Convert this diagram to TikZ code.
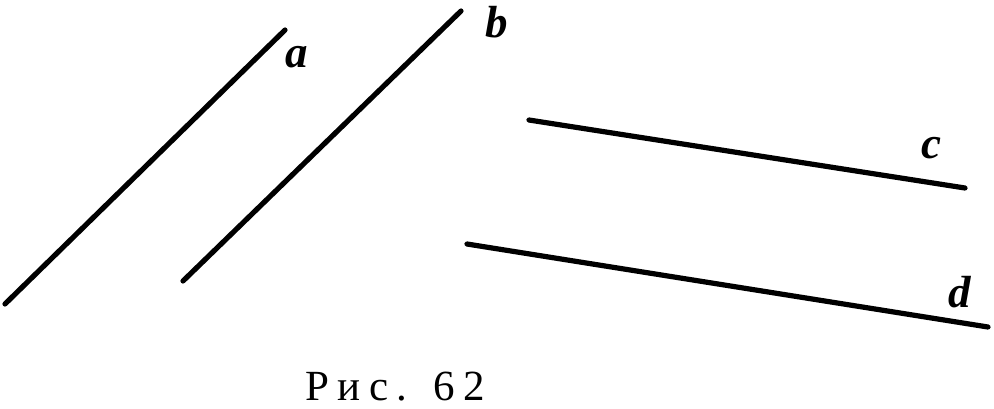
\documentclass[tikz,border=0pt]{standalone}
\usepackage{fontspec}
\setmainfont{Liberation Serif}
\newfontfamily\capfont[LetterSpace=20]{Liberation Serif}
\begin{document}
\begin{tikzpicture}[x=1pt,y=-1pt,
  ln/.style={line width=5.2pt,line cap=round},
  lbl/.style={font=\fontsize{45}{45}\selectfont\bfseries\itshape,inner sep=0pt}]
\useasboundingbox (0,0) rectangle (994,408);
\coordinate (a1) at (5,304);
\coordinate (a2) at (285,30);
\coordinate (b1) at (183,281);
\coordinate (b2) at (461,11);
\coordinate (c1) at (529,120);
\coordinate (c2) at (965,188);
\coordinate (d1) at (467,244);
\coordinate (d2) at (988,327);
\draw[ln] (a1) -- (a2);
\draw[ln] (b1) -- (b2);
\draw[ln] (c1) -- (c2);
\draw[ln] (d1) -- (d2);
\node[lbl,anchor=base] (la) at (297,67) {a};
\node[lbl,anchor=base] (lb) at (497,37) {b};
\node[lbl,anchor=base] (lc) at (931,158) {c};
\node[lbl,anchor=base] (ld) at (960,307) {d};
\node[inner sep=0pt,text depth=0pt,anchor=base west,font=\capfont\fontsize{43}{43}\selectfont] (cap) at (305,400) {Рис. 62};
\end{tikzpicture}
\end{document}
